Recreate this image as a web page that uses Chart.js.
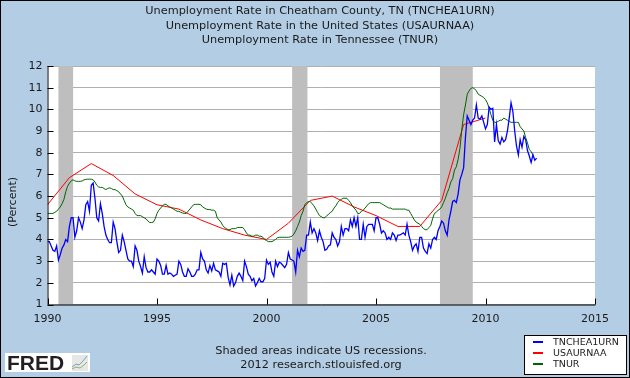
<!DOCTYPE html>
<html>
<head>
<meta charset="utf-8">
<script src="https://cdn.jsdelivr.net/npm/chart.js@4"></script>
<style>
  html, body { margin: 0; padding: 0; background: #b3cde4; }
  #wrap { width: 630px; height: 378px; position: relative; }
</style>
</head>
<body>
<div id="wrap"><canvas id="myChart" width="630" height="378"></canvas></div>
<script>
const titleLines = [
    "Unemployment Rate in Cheatham County, TN (TNCHEA1URN)",
    "Unemployment Rate in the United States (USAURNAA)",
    "Unemployment Rate in Tennessee (TNUR)"
];
const footerLines = ["Shaded areas indicate US recessions.", "2012 research.stlouisfed.org"];
const seriesNames = ["TNCHEA1URN", "USAURNAA", "TNUR"];
const seriesColors = ["#0000ff", "#ff0000", "#006400"];
const startYear = 1990;

// monthly, Jan 1990 onward
const countyValues = [
    3.9,3.9,3.7,3.5,3.45,3.7,3.05,3.3,3.6,3.75,4.0,3.9,
    4.6,5.0,5.0,4.1,4.4,5.0,4.8,4.5,4.9,5.6,5.75,5.3,
    6.5,6.6,5.9,5.0,4.85,5.65,5.2,4.6,4.2,4.0,3.85,3.85,
    4.8,4.5,3.9,3.4,3.5,4.2,3.9,3.5,3.1,3.0,3.0,2.75,
    3.7,3.5,3.0,2.75,2.45,3.2,2.7,2.5,2.5,2.6,2.5,2.4,
    3.1,3.0,2.8,2.4,2.4,2.8,2.4,2.45,2.4,2.3,2.35,2.4,
    3.0,2.85,2.5,2.3,2.3,2.65,2.5,2.3,2.3,2.4,2.6,2.6,
    3.4,3.1,3.0,2.6,2.45,2.8,2.55,2.9,2.6,2.55,2.5,2.3,
    2.9,2.85,2.9,2.25,1.9,2.35,1.85,2.0,2.3,2.45,2.3,2.1,
    3.0,2.75,2.4,2.3,2.1,2.2,1.85,2.0,2.2,2.05,2.05,2.2,
    3.05,2.85,2.95,2.5,2.3,3.0,2.75,2.95,2.9,2.8,2.7,2.85,
    3.4,3.1,3.05,3.0,2.5,3.5,3.2,3.6,3.45,3.5,4.2,4.2,
    4.8,4.3,4.5,4.3,3.95,4.4,4.1,3.9,3.5,3.55,3.7,3.75,
    4.3,4.1,4.0,3.7,3.9,4.6,4.2,4.5,4.5,4.4,4.9,4.6,
    5.0,4.6,5.0,4.0,4.0,4.7,4.1,4.6,4.7,4.7,4.7,4.4,
    5.0,5.0,4.7,4.3,4.4,4.3,4.0,4.1,4.0,4.3,4.2,3.95,
    4.2,4.2,4.25,4.3,4.2,4.7,4.2,3.9,3.5,3.7,3.8,3.45,
    4.1,4.1,3.6,3.45,3.35,3.8,3.6,4.0,4.1,4.0,4.4,4.6,
    4.85,4.75,4.4,4.2,4.9,5.3,5.75,5.8,5.7,6.1,6.75,7.0,
    7.3,8.7,9.7,9.5,9.3,9.5,9.6,10.2,9.6,9.55,9.7,9.4,
    9.1,9.3,10.1,10.0,10.05,8.5,9.3,8.55,8.4,8.7,8.5,8.6,
    9.0,9.6,10.3,9.9,9.0,8.3,7.9,8.6,8.25,8.75,8.6,8.1,
    7.85,7.55,7.9,7.65,7.75
];

// monthly, Jan 1990 onward
const tennesseeValues = [
    5.2,5.2,5.2,5.2,5.25,5.3,5.4,5.5,5.65,5.85,6.2,6.45,
    6.6,6.7,6.75,6.7,6.68,6.68,6.68,6.7,6.75,6.77,6.78,6.78,
    6.78,6.75,6.65,6.5,6.42,6.4,6.4,6.35,6.3,6.35,6.38,6.35,
    6.3,6.3,6.25,6.2,6.1,6.0,5.8,5.6,5.5,5.45,5.4,5.35,
    5.2,5.1,5.1,5.1,5.05,5.0,4.95,4.85,4.78,4.78,4.8,4.95,
    5.2,5.35,5.45,5.55,5.62,5.62,5.55,5.5,5.45,5.4,5.35,5.3,
    5.3,5.25,5.22,5.2,5.2,5.3,5.4,5.5,5.6,5.62,5.62,5.62,
    5.6,5.5,5.45,5.4,5.38,5.38,5.35,5.35,5.3,5.0,4.9,4.8,
    4.65,4.55,4.5,4.45,4.45,4.5,4.5,4.5,4.55,4.55,4.55,4.55,
    4.45,4.3,4.2,4.2,4.15,4.15,4.2,4.2,4.15,4.15,4.1,4.0,
    3.95,3.9,3.9,3.9,3.95,4.0,4.08,4.1,4.1,4.1,4.1,4.1,
    4.1,4.12,4.15,4.25,4.4,4.6,4.8,5.1,5.3,5.6,5.7,5.75,
    5.75,5.65,5.55,5.4,5.25,5.1,5.05,5.0,5.0,5.1,5.15,5.25,
    5.3,5.45,5.55,5.7,5.8,5.85,5.9,5.9,5.9,5.8,5.7,5.55,
    5.45,5.35,5.2,5.2,5.3,5.35,5.45,5.55,5.65,5.7,5.7,5.7,
    5.7,5.7,5.7,5.65,5.6,5.55,5.5,5.45,5.45,5.4,5.4,5.4,
    5.4,5.4,5.4,5.4,5.4,5.35,5.35,5.2,5.05,4.9,4.8,4.75,
    4.7,4.6,4.5,4.45,4.45,4.55,4.65,4.95,5.2,5.25,5.35,5.4,
    5.5,5.7,5.9,6.15,6.35,6.65,6.8,7.2,7.35,7.7,8.2,9.05,
    9.75,10.2,10.7,10.85,10.97,11.0,10.95,10.85,10.7,10.65,10.6,10.55,
    10.45,10.3,10.05,9.75,9.5,9.4,9.4,9.45,9.5,9.5,9.6,9.55,
    9.5,9.45,9.4,9.4,9.4,9.4,9.4,9.2,9.1,9.0,8.7,8.45,
    8.15,8.05,7.9
];

// annual
const usYears = [1990,1991,1992,1993,1994,1995,1996,1997,1998,1999,2000,2001,2002,2003,2004,2005,2006,2007,2008,2009,2010];
const usValues = [5.6,6.85,7.5,6.95,6.1,5.6,5.4,4.9,4.5,4.2,4.0,4.75,5.8,6.0,5.5,5.1,4.6,4.6,5.8,9.3,9.6];

const recessionStarts = [1990.5, 2001.17, 2007.92];
const recessionEnds = [1991.17, 2001.87, 2009.42];
const xTickYears = [1990, 1995, 2000, 2005, 2010, 2015];

const fontName = "'DejaVu Sans'";
const textColor = "#1a1a1a";

function monthly(values) {
    return values.map((v, i) => ({ x: startYear + i / 12, y: v }));
}

// white plot area, before the grid goes on
const plotBackground = {
    id: "plotBackground",
    afterLayout(chart) {
        // title sits over the plot, not over the padded box
        chart.titleBlock.left += 16.5;
        chart.titleBlock.right += 16.5;
    },
    beforeDraw(chart) {
        const { ctx, chartArea } = chart;
        ctx.save();
        ctx.fillStyle = "#ffffff";
        ctx.fillRect(chartArea.left, chartArea.top, chartArea.width, chartArea.height);
        ctx.restore();
    }
};

// recession shading, under the lines
const recessionBands = {
    id: "recessionBands",
    beforeDatasetsDraw(chart) {
        const { ctx, chartArea, scales } = chart;
        ctx.save();
        // reference has no grid between the axis and the first band
        ctx.fillStyle = "#ffffff";
        ctx.fillRect(chartArea.left, chartArea.top + 1, scales.x.getPixelForValue(recessionStarts[0]) - chartArea.left, chartArea.height - 1);
        ctx.fillStyle = "#bebebe";
        recessionStarts.forEach((s, i) => {
            const x1 = scales.x.getPixelForValue(s);
            const x2 = scales.x.getPixelForValue(recessionEnds[i]);
            ctx.fillRect(x1, chartArea.top, x2 - x1, chartArea.height);
        });
        ctx.restore();
    }
};

// inward ticks, outer frame, y label, footer, legend, logo
const extras = {
    id: "extras",
    afterDraw(chart) {
        const { ctx, chartArea, scales } = chart;
        ctx.save();
        ctx.strokeStyle = "#000000";
        ctx.lineWidth = 1;
        ctx.beginPath();
        ctx.moveTo(chartArea.left + 0.5, chartArea.top);
        ctx.lineTo(chartArea.left + 0.5, chartArea.bottom + 0.5);
        ctx.lineTo(chartArea.right + 0.5, chartArea.bottom + 0.5);
        for (let v = 1; v <= 12; v++) {
            const y = Math.round(scales.y.getPixelForValue(v)) + 0.5;
            ctx.moveTo(chartArea.left, y);
            ctx.lineTo(chartArea.left + 6, y);
        }
        xTickYears.forEach(year => {
            const x = Math.round(scales.x.getPixelForValue(year)) + 0.5;
            ctx.moveTo(x, chartArea.bottom);
            ctx.lineTo(x, chartArea.bottom - 6);
        });
        ctx.stroke();

        ctx.strokeRect(0.5, 0.5, 629, 377);

        ctx.fillStyle = textColor;
        ctx.font = "11px " + fontName;
        ctx.textBaseline = "middle";

        ctx.save();
        ctx.translate(13, 202);
        ctx.rotate(-Math.PI / 2);
        ctx.textAlign = "center";
        ctx.fillText("(Percent)", 0, 0);
        ctx.restore();

        ctx.textAlign = "center";
        ctx.font = "11.3px " + fontName;
        ctx.fillText(footerLines[0], 321, 351);
        ctx.fillText(footerLines[1], 321, 365);

        // legend box
        ctx.fillStyle = "#ffffff";
        ctx.fillRect(524.5, 335.5, 102, 39);
        ctx.strokeRect(524.5, 335.5, 102, 39);
        ctx.font = "9.5px " + fontName;
        ctx.textAlign = "left";
        seriesNames.forEach((name, i) => {
            const y = 342 + i * 11;
            ctx.fillStyle = seriesColors[i];
            ctx.fillRect(533, y - 1, 10, 2);
            ctx.fillStyle = textColor;
            ctx.fillText(name, 553, y + 0.5);
        });

        // FRED logo
        ctx.fillStyle = "#ffffff";
        ctx.fillRect(5, 353, 85, 19);
        ctx.fillStyle = "#231f20";
        ctx.font = "bold 21px 'Liberation Sans'";
        ctx.textBaseline = "alphabetic";
        ctx.fillText("FRED", 7, 370);
        ctx.fillStyle = "#e6e8e6";
        ctx.fillRect(72, 355, 16, 16);
        ctx.lineWidth = 1;
        ctx.strokeStyle = "#7f9fc0";
        ctx.beginPath();
        ctx.moveTo(72, 367); ctx.lineTo(76, 364); ctx.lineTo(79, 365); ctx.lineTo(83, 361); ctx.lineTo(87, 356);
        ctx.stroke();
        ctx.strokeStyle = "#8fb070";
        ctx.beginPath();
        ctx.moveTo(72, 369); ctx.lineTo(76, 367); ctx.lineTo(80, 368); ctx.lineTo(84, 365); ctx.lineTo(87, 362);
        ctx.stroke();
        ctx.restore();
    }
};

const ctx = document.getElementById("myChart");
const myChart = new Chart(ctx, {
    type: "line",
    plugins: [plotBackground, recessionBands, extras],
    data: {
        datasets: [
            { label: seriesNames[0], data: monthly(countyValues), borderColor: seriesColors[0], borderWidth: 1.3, order: 1 },
            { label: seriesNames[1], data: usYears.map((y, i) => ({ x: y, y: usValues[i] })), borderColor: seriesColors[1], borderWidth: 1, order: 3 },
            { label: seriesNames[2], data: monthly(tennesseeValues), borderColor: seriesColors[2], borderWidth: 1, order: 2 }
        ]
    },
    options: {
        responsive: false,
        animation: false,
        layout: { padding: { left: 12, right: 35, top: 0, bottom: 0 } },
        elements: { point: { radius: 0 }, line: { tension: 0 } },
        plugins: {
            legend: { display: false },
            tooltip: { enabled: false },
            title: {
                display: true,
                text: titleLines,
                color: textColor,
                font: { family: "DejaVu Sans", size: 11.3, weight: "normal", lineHeight: "14.5px" },
                padding: { top: 4, bottom: 18.5 }
            }
        },
        scales: {
            x: {
                type: "linear",
                min: 1990,
                max: 2015,
                afterFit(scale) { scale.height = 73.5; },
                afterBuildTicks(scale) { scale.ticks = xTickYears.map(v => ({ value: v })); },
                grid: { display: false, drawTicks: false },
                border: { display: false },
                ticks: {
                    color: textColor,
                    font: { family: "DejaVu Sans", size: 11 },
                    maxRotation: 0,
                    padding: 8,
                    callback: v => String(v)
                }
            },
            y: {
                min: 1,
                max: 12,
                afterFit(scale) { scale.width = 35.5; },
                grid: { color: "#b0b0b0", lineWidth: 1, drawTicks: false },
                border: { display: false },
                ticks: {
                    stepSize: 1,
                    color: textColor,
                    font: { family: "DejaVu Sans", size: 11 },
                    padding: 5
                }
            }
        }
    }
});
</script>
</body>
</html>
